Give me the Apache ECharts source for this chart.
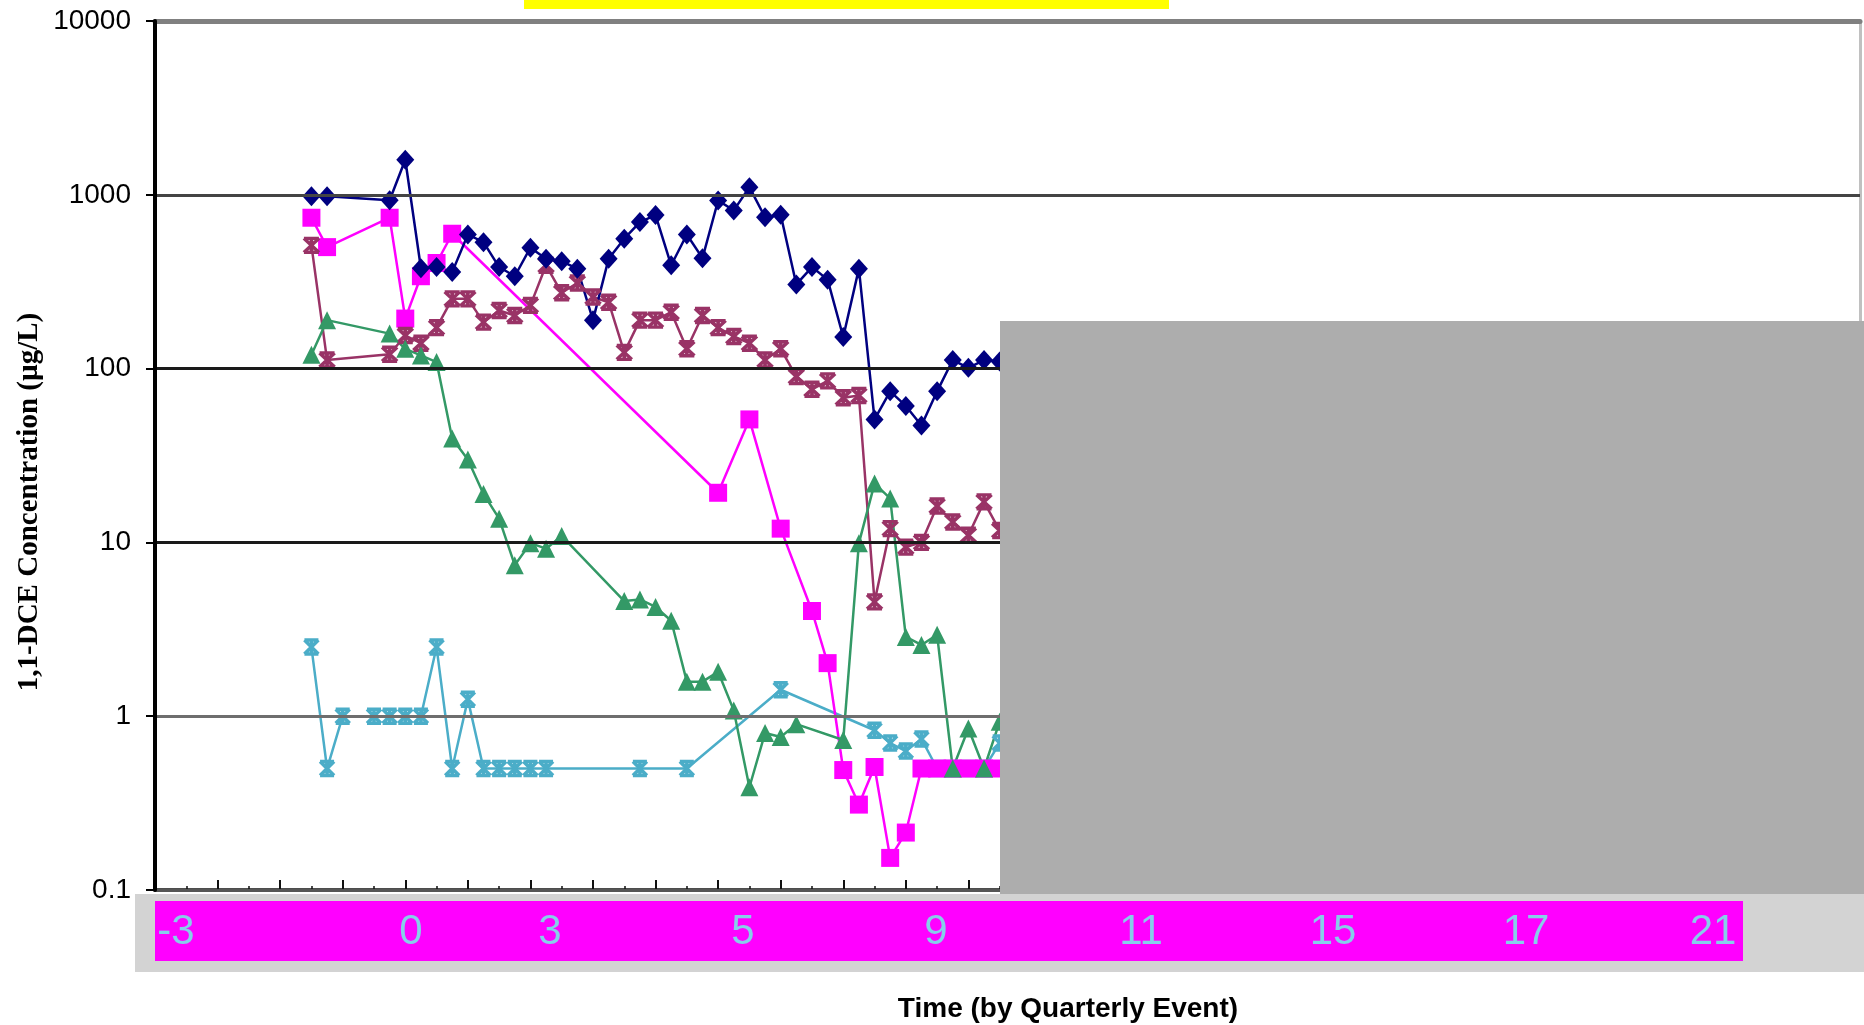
<!DOCTYPE html>
<html>
<head>
<meta charset="utf-8">
<title>1,1-DCE Concentration</title>
<script src="https://cdn.jsdelivr.net/npm/echarts@6/dist/echarts.min.js"></script>
<style>
  html, body { margin: 0; padding: 0; background: #fff; }
  #chart { width: 1864px; height: 1025px; }
</style>
</head>
<body>
<div id="chart"></div>
<script>
// sampling events (quarter index from the y axis) and concentrations in ug/L
var blueX = [10,11,15,16,17,18,19,20,21,22,23,24,25,26,27,28,29,30,31,32,33,34,35,36,37,38,39,40,41,42,43,44,45,46,47,48,49,50,51,52,53,54];
var blueY = [980,980,930,1590,378,384,359,591,534,384,340,496,428,414,376,190,428,559,697,765,393,591,432,927,813,1106,743,767,305,384,325,152,376,51,74,61,47,74,112,101,112,110];

var pinkX = [10,11,15,16,17,18,19,36,38,40,42,43,44,45,46,47,48,49,50,51,52,53,54];
var pinkY = [738,500,738,194,340,405,597,19.3,51,12,4.03,2.02,0.49,0.31,0.51,0.153,0.214,0.5,0.5,0.5,0.5,0.5,0.5];

var maroonX = [10,11,15,16,17,18,19,20,21,22,23,24,25,26,27,28,29,30,31,32,33,34,35,36,37,38,39,40,41,42,43,44,45,46,47,48,49,50,51,52,53,54];
var maroonY = [512,112,121,155,140,172,252,252,185,216,202,231,393,273,311,258,241,124,190,190,211,130,202,172,153,140,112,130,90,76,85,68,70,4.55,12,9.4,10,16.2,13.1,11,17.1,11.7];

var greenX = [10,11,15,16,17,18,19,20,21,22,23,24,25,26,30,31,32,33,34,35,36,37,38,39,40,41,44,45,46,47,48,49,50,51,52,53,54];
var greenY = [120,190,159,130,119,109,39.6,30,19,13.7,7.4,9.9,9.2,10.9,4.6,4.7,4.25,3.54,1.58,1.58,1.8,1.08,0.39,0.8,0.76,0.9,0.73,9.9,21.8,17.9,2.86,2.57,2.94,0.5,0.85,0.5,0.93];

var cyanX = [10,11,12,14,15,16,17,18,19,20,21,22,23,24,25,31,34,40,46,47,48,49,50,51,52,53,54];
var cyanY = [2.5,0.5,1,1,1,1,1,2.5,0.5,1.25,0.5,0.5,0.5,0.5,0.5,0.5,0.5,1.42,0.83,0.7,0.63,0.74,0.5,0.5,0.5,0.5,0.7];

var yTickLabels = ['0.1','1','10','100','1000','10000'];
var bandLabels = ['-3','0','3','5','9','11','15','17','21'];
var bandLabelX = [176,411,550,743,936,1141,1333,1526,1713];

function pairs(xs, ys) {
    var res = [];
    for (var i = 0; i < xs.length; i++) {
        res.push([xs[i], ys[i]]);
    }
    return res;
}

var starPath = 'path://M0,0L10,0M0,10L10,10M0,0L10,10M10,0L0,10M5,0L5,10';

function lineSeries(name, xs, ys, color, symbol, size, star) {
    return {
        name: name,
        type: 'line',
        data: pairs(xs, ys),
        symbol: symbol,
        symbolSize: size,
        showAllSymbol: true,
        lineStyle: { color: color, width: 2.5 },
        itemStyle: star ? { color: 'none', borderColor: color, borderWidth: 3.5 } : { color: color },
        emphasis: { disabled: true }
    };
}

var myChart = echarts.init(document.getElementById('chart'));

var labelEls = bandLabels.map(function (t, i) {
    return {
        type: 'text',
        z: 102,
        x: bandLabelX[i],
        y: 932,
        style: {
            text: t,
            fill: '#87cdea',
            font: '42px "Liberation Sans", Arial, sans-serif',
            textAlign: 'center',
            textVerticalAlign: 'middle'
        }
    };
});

var option = {
    backgroundColor: '#fff',
    animation: false,
    grid: { left: 155, right: 4, top: 21, bottom: 135 },
    xAxis: [{
        type: 'value',
        min: 0,
        max: 109,
        interval: 4,
        axisLabel: { show: false },
        splitLine: { show: false },
        axisLine: { lineStyle: { color: '#4d4d4d', width: 4 } },
        axisTick: { inside: true, length: 10, lineStyle: { color: '#111', width: 2 } },
        minorTick: { show: true, splitNumber: 2, length: 4, lineStyle: { color: '#111', width: 1.5 } }
    }, {
        type: 'value',
        position: 'top',
        min: 0,
        max: 109,
        axisLabel: { show: false },
        splitLine: { show: false },
        axisTick: { show: false },
        axisLine: { show: true, lineStyle: { color: '#808080', width: 5 } }
    }],
    yAxis: [{
        type: 'log',
        logBase: 10,
        min: 0.1,
        max: 10000,
        z: 5,
        axisLine: { show: true, onZero: false, lineStyle: { color: '#000', width: 4 } },
        axisTick: { show: true, length: 9, lineStyle: { color: '#000', width: 2 } },
        axisLabel: {
            margin: 24,
            color: '#000',
            fontSize: 28,
            fontFamily: '"Liberation Sans", Arial, sans-serif',
            formatter: function (v) {
                return yTickLabels[Math.round(Math.log10(v)) + 1];
            }
        },
        splitLine: {
            show: true,
            lineStyle: { color: ['#555', '#6e6e6e', '#1a1a1a', '#1a1a1a', '#444', '#808080'], width: 3 }
        }
    }, {
        type: 'log',
        logBase: 10,
        position: 'right',
        min: 0.1,
        max: 10000,
        axisLine: { show: true, onZero: false, lineStyle: { color: '#c0c0c0', width: 3 } },
        axisTick: { show: false },
        axisLabel: { show: false },
        splitLine: { show: false }
    }],
    series: [
        lineSeries('cyan', cyanX, cyanY, '#4badc8', starPath, [14, 14], true),
        lineSeries('pink', pinkX, pinkY, '#ff00ff', 'rect', 18, false),
        lineSeries('maroon', maroonX, maroonY, '#993366', starPath, [15, 14], true),
        lineSeries('green', greenX, greenY, '#339966', 'triangle', 18, false),
        lineSeries('blue', blueX, blueY, '#000080', 'diamond', [18, 20], false)
    ],
    graphic: [
        { type: 'rect', z: 100, shape: { x: 1000, y: 321, width: 864, height: 573 }, style: { fill: '#adadad' } },
        { type: 'rect', z: 100, shape: { x: 135, y: 894, width: 1729, height: 78 }, style: { fill: '#d3d3d3' } },
        { type: 'rect', z: 101, shape: { x: 155, y: 901, width: 1588, height: 60 }, style: { fill: '#ff00ff' } },
        { type: 'rect', z: 101, shape: { x: 524, y: 0, width: 645, height: 9 }, style: { fill: '#ffff00' } },
        {
            type: 'text', z: 100, x: 1068, y: 1009,
            style: {
                text: 'Time (by Quarterly Event)',
                fill: '#000',
                font: 'bold 28px "Liberation Sans", Arial, sans-serif',
                textAlign: 'center',
                textVerticalAlign: 'middle'
            }
        },
        {
            type: 'text', z: 100, x: 30, y: 502, rotation: Math.PI / 2,
            style: {
                text: '1,1-DCE Concentration (µg/L)',
                fill: '#000',
                font: 'bold 29px "Liberation Serif", "Times New Roman", serif',
                textAlign: 'center',
                textVerticalAlign: 'middle'
            }
        }
    ].concat(labelEls)
};

myChart.setOption(option, true);
window.addEventListener('resize', function () {
    myChart.resize();
});
</script>
</body>
</html>
